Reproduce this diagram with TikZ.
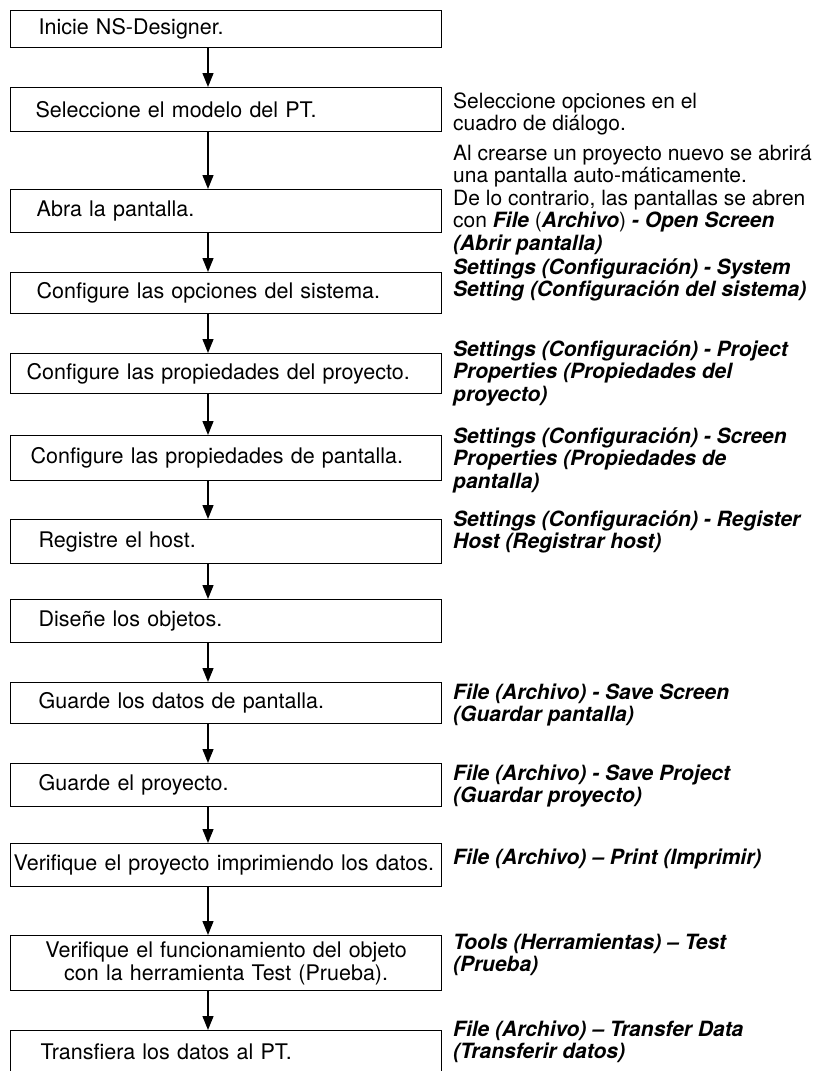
\documentclass[tikz,border=0pt]{standalone}
\usepackage{fontspec}
\setmainfont{TeX Gyre Heros}
\usetikzlibrary{arrows.meta}
\newcommand{\bi}[1]{\textbf{\textit{#1}}}

\begin{document}
\begin{tikzpicture}[x=1pt,y=-1pt,
  stepbox/.style={draw,line width=1.3pt,anchor=north west,inner xsep=0pt,
    text width=431pt,align=left,font=\fontsize{21.5}{23}\selectfont},
  menutxt/.style={anchor=west,inner sep=0pt,align=left,font=\fontsize{21}{22.5}\selectfont},
  flow/.style={line width=1.3pt,-{Triangle[width=11pt,length=14pt]}}]
\clip (0,0) rectangle (817,1071);
% pasos
\node[stepbox,minimum height=37pt] (inicio) at (10,10) {\hspace*{28pt}Inicie NS-Designer.};
\node[stepbox,minimum height=44pt] (modelo) at (10,87) {\hspace*{25pt}Seleccione el modelo del PT.};
\node[stepbox,minimum height=43pt] (abrir) at (10,189) {\hspace*{26pt}Abra la pantalla.};
\node[stepbox,minimum height=41pt] (sistema) at (10,272) {\hspace*{26pt}Configure las opciones del sistema.};
\node[stepbox,minimum height=40pt] (proyecto) at (10,353) {\hspace*{16pt}Configure las propiedades del proyecto.};
\node[stepbox,minimum height=45pt] (pantalla) at (10,435) {\hspace*{20pt}Configure las propiedades de pantalla.};
\node[stepbox,minimum height=44pt] (host) at (10,519) {\hspace*{28pt}Registre el host.};
\node[stepbox,minimum height=43pt] (objetos) at (10,599) {\hspace*{28pt}Diseñe los objetos.};
\node[stepbox,minimum height=41pt] (guardapan) at (10,682) {\hspace*{28pt}Guarde los datos de pantalla.};
\node[stepbox,minimum height=43pt] (guardaproy) at (10,763) {\hspace*{28pt}Guarde el proyecto.};
\node[stepbox,minimum height=43pt] (imprime) at (10,843) {\hspace*{3pt}Verifique el proyecto imprimiendo los datos.};
\node[stepbox,minimum height=55pt,align=center] (prueba) at (10,935) {Verifique el funcionamiento del objeto\\con la herramienta Test (Prueba).};
\node[stepbox,minimum height=42pt] (transf) at (10,1030) {\hspace*{30pt}Transfiera los datos al PT.};
% flechas
\coordinate (ax) at (208,0);
\draw[flow] (inicio.south -| ax) -- (modelo.north -| ax);
\draw[flow] (modelo.south -| ax) -- (abrir.north -| ax);
\draw[flow] (abrir.south -| ax) -- (sistema.north -| ax);
\draw[flow] (sistema.south -| ax) -- (proyecto.north -| ax);
\draw[flow] (proyecto.south -| ax) -- (pantalla.north -| ax);
\draw[flow] (pantalla.south -| ax) -- (host.north -| ax);
\draw[flow] (host.south -| ax) -- (objetos.north -| ax);
\draw[flow] (objetos.south -| ax) -- (guardapan.north -| ax);
\draw[flow] (guardapan.south -| ax) -- (guardaproy.north -| ax);
\draw[flow] (guardaproy.south -| ax) -- (imprime.north -| ax);
\draw[flow] (imprime.south -| ax) -- (prueba.north -| ax);
\draw[flow] (prueba.south -| ax) -- (transf.north -| ax);
% menus
\node[menutxt] (dlg) at (453,114) {Seleccione opciones en el\\cuadro de diálogo.};
\node[menutxt] (scr) at (453,200) {Al crearse un proyecto nuevo se abrirá\\una pantalla auto-máticamente.\\De lo contrario, las pantallas se abren\\con \bi{File} (\bi{Archivo}) \bi{- Open Screen}\\\bi{(Abrir pantalla)}};
\node[menutxt] (sys) at (453,280) {\bi{Settings (Configuración) - System}\\\bi{Setting (Configuración del sistema)}};
\node[menutxt] (prj) at (453,373) {\bi{Settings (Configuración) - Project}\\\bi{Properties (Propiedades del}\\\bi{proyecto)}};
\node[menutxt] (pan) at (453,460) {\bi{Settings (Configuración) - Screen}\\\bi{Properties (Propiedades de}\\\bi{pantalla)}};
\node[menutxt] (hst) at (453,532) {\bi{Settings (Configuración) - Register}\\\bi{Host (Registrar host)}};
\node[menutxt] (svs) at (453,705) {\bi{File (Archivo) - Save Screen}\\\bi{(Guardar pantalla)}};
\node[menutxt] (svp) at (453,786) {\bi{File (Archivo) - Save Project}\\\bi{(Guardar proyecto)}};
\node[menutxt] (prn) at (453,859) {\bi{File (Archivo) -- Print (Imprimir)}};
\node[menutxt] (tst) at (453,955) {\bi{Tools (Herramientas) -- Test}\\\bi{(Prueba)}};
\node[menutxt] (xfr) at (453,1042) {\bi{File (Archivo) -- Transfer Data}\\\bi{(Transferir datos)}};
\end{tikzpicture}
\end{document}
